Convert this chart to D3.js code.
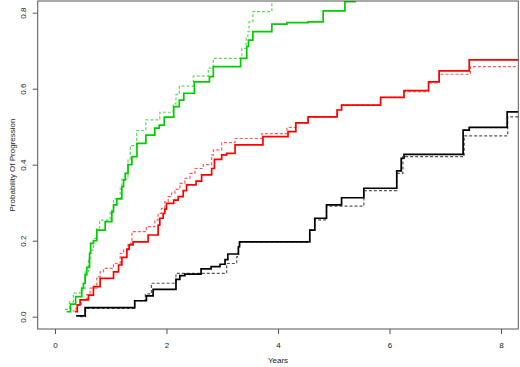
<!DOCTYPE html>
<html>
<head>
<meta charset="utf-8">
<script src="https://cdn.jsdelivr.net/npm/d3@7"></script>
<style>
  body { margin: 0; background: #fff; }
  text { font-family: "Liberation Sans", Arial, sans-serif; fill: #222; }
</style>
</head>
<body>
<div id="chart"></div>
<script>
// Cumulative probability of progression, [years, probability] step points
const greenSolid = [[0.21,0.013],[0.28,0.033],[0.37,0.053],[0.48,0.075],[0.51,0.088],[0.54,0.11],[0.57,0.13],[0.62,0.167],[0.64,0.193],[0.69,0.20],
  [0.75,0.228],[0.90,0.25],[1.02,0.276],[1.05,0.294],[1.11,0.31],[1.20,0.342],[1.23,0.36],[1.26,0.377],[1.31,0.40],[1.38,0.421],
  [1.47,0.456],[1.63,0.478],[1.79,0.496],[1.87,0.504],[1.96,0.525],[2.13,0.553],[2.23,0.570],[2.31,0.588],[2.50,0.618],[2.77,0.632],
  [2.84,0.658],[3.33,0.680],[3.44,0.711],[3.47,0.728],[3.55,0.75],[3.89,0.77],[4.16,0.774],[4.54,0.776],[4.81,0.805],[5.20,0.829],[5.38,0.87]];
const greenDashed = [[0.18,0.019],[0.26,0.039],[0.33,0.062],[0.45,0.07],[0.54,0.118],[0.60,0.149],[0.63,0.175],[0.69,0.206],[0.75,0.233],[0.80,0.254],
  [0.99,0.28],[1.05,0.31],[1.17,0.338],[1.20,0.362],[1.31,0.412],[1.35,0.45],[1.465,0.49],[1.63,0.518],[1.88,0.538],[2.12,0.56],
  [2.17,0.585],[2.23,0.607],[2.48,0.633],[2.75,0.654],[2.84,0.68],[3.35,0.706],[3.43,0.733],[3.46,0.75],[3.48,0.776],[3.55,0.803],[3.89,0.835],[4.80,0.87]];
const redSolid = [[0.36,0.013],[0.40,0.031],[0.45,0.044],[0.60,0.057],[0.69,0.079],[0.81,0.101],[1.05,0.118],[1.14,0.136],[1.20,0.156],[1.29,0.178],
  [1.33,0.189],[1.40,0.197],[1.67,0.215],[1.85,0.241],[1.88,0.259],[1.94,0.272],[1.97,0.283],[2.00,0.298],[2.13,0.307],[2.21,0.316],
  [2.30,0.332],[2.36,0.347],[2.53,0.357],[2.63,0.373],[2.81,0.39],[2.86,0.414],[2.99,0.426],[3.08,0.43],[3.23,0.452],[3.73,0.474],
  [4.18,0.487],[4.32,0.51],[4.54,0.526],[5.06,0.544],[5.14,0.557],[5.84,0.577],[6.26,0.595],[6.70,0.618],[6.89,0.647],[7.43,0.676],[8.4,0.676]];
const redDashed = [[0.31,0.015],[0.38,0.03],[0.47,0.044],[0.57,0.058],[0.63,0.075],[0.75,0.105],[0.81,0.118],[0.87,0.127],[1.05,0.14],[1.17,0.167],
  [1.23,0.176],[1.31,0.193],[1.38,0.224],[1.64,0.237],[1.79,0.254],[1.85,0.272],[1.91,0.285],[1.97,0.303],[2.03,0.316],[2.09,0.325],
  [2.15,0.335],[2.24,0.351],[2.33,0.364],[2.42,0.377],[2.51,0.39],[2.66,0.40],[2.81,0.425],[2.84,0.439],[2.99,0.458],[3.23,0.469],
  [3.71,0.482],[4.16,0.498],[4.32,0.51],[4.54,0.526],[5.06,0.544],[5.14,0.557],[5.84,0.577],[6.26,0.592],[6.70,0.615],[6.89,0.638],[7.45,0.658],[8.4,0.658]];
const blackSolid = [[0.38,0.002],[0.54,0.024],[1.43,0.042],[1.64,0.055],[1.76,0.072],[2.17,0.098],[2.24,0.108],[2.33,0.112],[2.62,0.126],[2.80,0.132],
  [2.96,0.138],[3.05,0.15],[3.10,0.165],[3.29,0.184],[3.31,0.197],[4.57,0.228],[4.66,0.259],[4.87,0.294],[5.14,0.313],[5.54,0.338],
  [6.13,0.384],[6.21,0.417],[6.26,0.427],[7.32,0.491],[7.43,0.498],[8.11,0.539],[8.4,0.539]];
const blackDashed = [[0.45,0.0],[0.55,0.022],[1.43,0.042],[1.62,0.06],[1.73,0.088],[2.17,0.114],[3.08,0.14],[3.26,0.158],[3.29,0.184],[3.31,0.197],
  [4.57,0.228],[4.66,0.255],[4.87,0.291],[5.54,0.332],[6.13,0.377],[6.24,0.421],[7.34,0.476],[8.12,0.526],[8.4,0.526]];

const xTicks = [0, 2, 4, 6, 8];
const yTicks = [0, 0.2, 0.4, 0.6, 0.8];

const W = 520, H = 367;
const margin = { top: 1, right: 1.7, bottom: 38, left: 37.7 };

const svg = d3.select("#chart").append("svg")
  .attr("width", W).attr("height", H);

const x = d3.scaleLinear().domain([-0.31, 8.31]).range([margin.left, W - margin.right]);
const y = d3.scaleLinear().domain([-0.0324, 0.8308]).range([H - margin.bottom, margin.top]);

svg.append("defs").append("clipPath").attr("id", "plotClip")
  .append("rect")
  .attr("x", margin.left).attr("y", margin.top)
  .attr("width", W - margin.left - margin.right)
  .attr("height", H - margin.top - margin.bottom);

const line = d3.line()
  .x(d => x(d[0]))
  .y(d => y(d[1]))
  .curve(d3.curveStepAfter);

const curves = [
  { data: greenDashed, color: "#5fd85f", width: 1.2, dash: "3,2" },
  { data: redDashed, color: "#ff5a5a", width: 1.2, dash: "3,2" },
  { data: blackDashed, color: "#555", width: 1.2, dash: "3,2" },
  { data: greenSolid, color: "#00cd00", width: 1.7, dash: null },
  { data: redSolid, color: "#ff0000", width: 1.7, dash: null },
  { data: blackSolid, color: "#000", width: 1.7, dash: null }
];

svg.append("g").attr("clip-path", "url(#plotClip)")
  .selectAll("path")
  .data(curves)
  .enter()
  .append("path")
  .attr("d", d => line(d.data))
  .attr("fill", "none")
  .attr("stroke", d => d.color)
  .attr("stroke-width", d => d.width)
  .attr("stroke-dasharray", d => d.dash);

// Box round the plot region
svg.append("rect")
  .attr("x", margin.left).attr("y", margin.top)
  .attr("width", W - margin.left - margin.right)
  .attr("height", H - margin.top - margin.bottom)
  .attr("fill", "none")
  .attr("stroke", "#555")
  .attr("stroke-width", 1);

// Axes
const xAxis = svg.append("g")
  .attr("transform", "translate(0," + (H - margin.bottom) + ")")
  .call(d3.axisBottom(x).tickValues(xTicks).tickSize(5).tickPadding(8).tickFormat(d3.format("d")));
const yAxis = svg.append("g")
  .attr("transform", "translate(" + margin.left + ",0)")
  .call(d3.axisLeft(y).tickValues(yTicks).tickSize(5).tickFormat(d3.format(".1f")));

[xAxis, yAxis].forEach(a => {
  a.select(".domain").remove();
  a.selectAll(".tick line").attr("stroke", "#555");
  a.selectAll(".tick text")
    .attr("fill", "#222")
    .style("font-size", "8px")
    .style("font-family", "'Liberation Sans', Arial, sans-serif");
});

yAxis.selectAll(".tick text")
  .attr("x", null).attr("dy", null)
  .attr("text-anchor", "middle")
  .attr("transform", "translate(-12,0) rotate(-90)");

svg.append("text")
  .attr("x", (margin.left + W - margin.right) / 2)
  .attr("y", H - 4)
  .attr("text-anchor", "middle")
  .style("font-size", "8px")
  .text("Years");

svg.append("text")
  .attr("transform", "translate(15," + ((margin.top + H - margin.bottom) / 2) + ") rotate(-90)")
  .attr("text-anchor", "middle")
  .style("font-size", "8px")
  .text("Probability Of Progression");
</script>
</body>
</html>
